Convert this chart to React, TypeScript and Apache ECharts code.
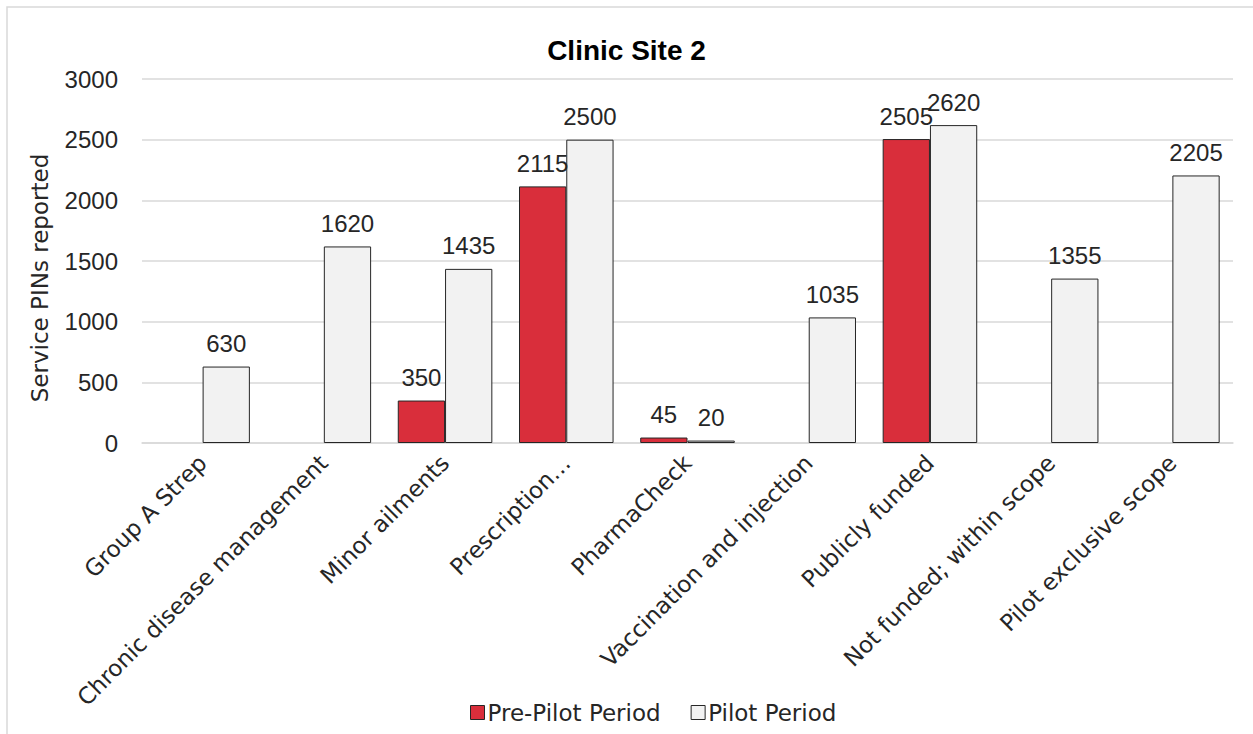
import React, { useEffect, useRef } from "react";
import * as echarts from "echarts";

const categories = [
  "Group A Strep",
  "Chronic disease management",
  "Minor ailments",
  "Prescription…",
  "PharmaCheck",
  "Vaccination and injection",
  "Publicly funded",
  "Not funded; within scope",
  "Pilot exclusive scope",
];
const prePilot: (number | null)[] = [null, null, 350, 2115, 45, null, 2505, null, null];
const pilot: number[] = [630, 1620, 1435, 2500, 20, 1035, 2620, 1355, 2205];
const yTicks = { min: 0, max: 3000, interval: 500 };
const yAxisTitle = "Service PINs reported";

const FONT = "DejaVu Sans";
const NUMFONT = "Liberation Sans";

export default function App() {
  const ref = useRef<HTMLDivElement>(null);
  useEffect(() => {
    if (!ref.current) return;
    const chart = echarts.init(ref.current, undefined, { renderer: "svg" });
    const labelStyle = {
      show: true,
      position: "top" as const,
      fontFamily: NUMFONT,
      fontSize: 24,
      color: "#262626",
      distance: 11,
    };
    chart.setOption({
      animation: false,
      backgroundColor: "#ffffff",
      graphic: [
        {
          type: "rect",
          shape: { x: 7, y: 7, width: 1400, height: 900 },
          style: { fill: "none", stroke: "#d9d9d9", lineWidth: 1.5 },
          silent: true,
        },
        {
          type: "text",
          x: 40,
          y: 278,
          rotation: Math.PI / 2,
          style: {
            text: yAxisTitle,
            fontFamily: FONT,
            fontSize: 23,
            fill: "#262626",
            align: "center",
            verticalAlign: "middle",
          },
          silent: true,
        },
      ],
      title: {
        text: "Clinic Site 2",
        left: "center",
        top: 31,
        textStyle: {
          fontFamily: "Liberation Sans",
          fontWeight: "bold",
          fontSize: 28,
          color: "#000000",
        },
      },
      legend: {
        bottom: 5,
        left: 465,
        itemWidth: 14,
        itemHeight: 14,
        itemGap: 30,
        icon: "rect",
        textStyle: { fontFamily: FONT, fontSize: 23, color: "#262626", padding: [0, 0, 0, -2] },
        data: [
          { name: "Pre-Pilot Period", itemStyle: { color: "#D92E3B", borderColor: "#262626", borderWidth: 1 } },
          { name: "Pilot Period", itemStyle: { color: "#F2F2F2", borderColor: "#262626", borderWidth: 1 } },
        ],
      },
      grid: { left: 142, right: 20, top: 79, bottom: 291, containLabel: false },
      xAxis: {
        type: "category",
        data: categories,
        axisLine: { show: true, lineStyle: { color: "#d9d9d9", width: 1.5 } },
        axisTick: { show: false },
        axisLabel: {
          rotate: 45,
          interval: 0,
          margin: 16,
          fontFamily: FONT,
          fontSize: 23,
          color: "#262626",
        },
      },
      yAxis: {
        type: "value",
        min: yTicks.min,
        max: yTicks.max,
        interval: yTicks.interval,
        axisLine: { show: false },
        axisTick: { show: false },
        axisLabel: {
          margin: 24,
          fontFamily: NUMFONT,
          fontSize: 24,
          color: "#262626",
          formatter: (v: number) => String(v),
        },
        splitLine: { lineStyle: { color: "#d9d9d9", width: 1.5 } },
      },
      series: [
        {
          name: "Pre-Pilot Period",
          type: "bar",
          data: prePilot,
          barGap: "0%",
          barCategoryGap: "22%",
          itemStyle: { color: "#D92E3B", borderColor: "#262626", borderWidth: 1 },
          label: labelStyle,
        },
        {
          name: "Pilot Period",
          type: "bar",
          data: pilot,
          barGap: "0%",
          barCategoryGap: "22%",
          itemStyle: { color: "#F2F2F2", borderColor: "#262626", borderWidth: 1 },
          label: labelStyle,
        },
      ],
    });
    return () => chart.dispose();
  }, []);
  return (
    <div
      ref={ref}
      style={{ position: "absolute", left: 0, top: 0, width: 1253, height: 734 }}
    />
  );
}
